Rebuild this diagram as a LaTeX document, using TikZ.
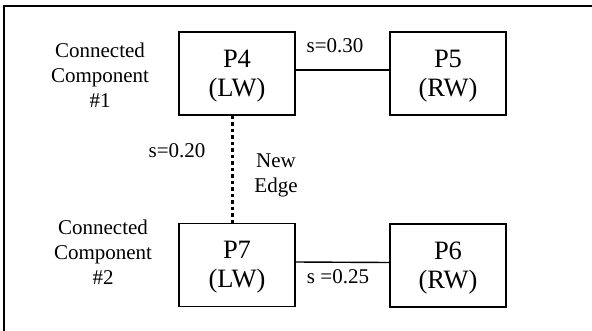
\documentclass[tikz,border=0pt]{standalone}
\usepackage{fontspec}
\setmainfont{Liberation Serif}
\begin{document}
\begin{tikzpicture}[x=1pt,y=-1pt,
  procbox/.style={draw, line width=1.8pt, minimum width=116pt, minimum height=83pt, inner sep=0pt, align=center, font=\fontsize{26.5}{29}\selectfont},
  lbl/.style={align=center, inner sep=0pt, font=\fontsize{21}{25}\selectfont},
  edge/.style={line width=1.4pt},
  newedge/.style={line width=3pt, dash pattern=on 3.2pt off 3.3pt}]
\useasboundingbox (0,0) rectangle (592,330);
\clip (0,0) rectangle (592,330);
\draw[line width=1.8pt] (4,6) rectangle (620,360);
\node[procbox] (P4) at (237,73.5) {\rule{0pt}{22.5pt}P4\\(LW)};
\node[procbox] (P5) at (448,73.5) {\rule{0pt}{22.5pt}P5\\(RW)};
\node[procbox] (P7) at (237,265) {\rule{0pt}{22.5pt}P7\\(LW)};
\node[procbox] (P6) at (448,265.5) {\rule{0pt}{22.5pt}P6\\(RW)};
\draw[edge] ([yshift=3.5pt]P4.east) -- ([yshift=3.5pt]P5.west);
\draw[edge] ([yshift=3pt]P7.east) -- ([yshift=3pt]P6.west);
\draw[newedge] ([xshift=-4.7pt]P4.south) -- ([xshift=-4.7pt]P7.north);
\node[lbl] (cc1) at (100,74.9) {Connected\\Component\\\#1};
\node[lbl] (cc2) at (103,251.9) {Connected\\Component\\\#2};
\node[lbl] (ne) at (276,174.9) {New\\Edge};
\node[lbl, anchor=base] (s30) at (335,52) {s=0.30};
\node[lbl, anchor=base] (s20) at (177,157) {s=0.20};
\node[lbl, anchor=base] (s25) at (338,283) {s =0.25};
\end{tikzpicture}
\end{document}
